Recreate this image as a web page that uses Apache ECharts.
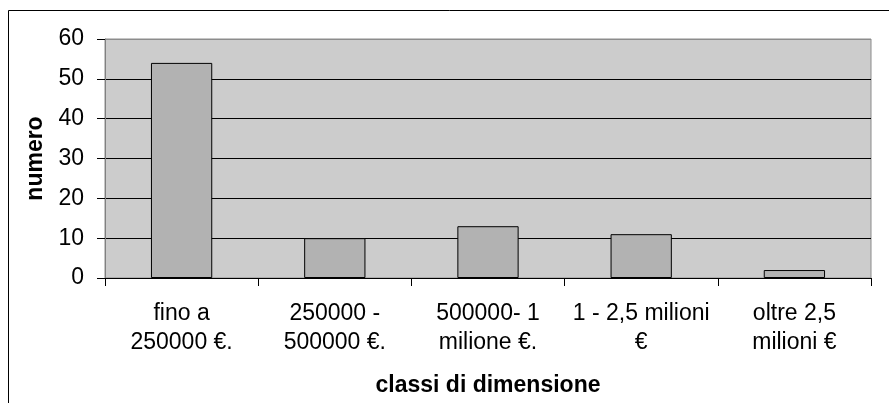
<!DOCTYPE html>
<html><head><meta charset="utf-8">
<script src="https://cdn.jsdelivr.net/npm/echarts@6/dist/echarts.min.js"></script>
<style>html,body{margin:0;padding:0;background:#fff}#c{width:889px;height:403px}</style>
</head><body><div id="c"></div>
<script>
const categories = ['fino a\n250000 €.', '250000 -\n500000 €.', '500000- 1\nmilione €.', '1 - 2,5 milioni\n€', 'oltre 2,5\nmilioni €'];
const values = [54, 10, 13, 11, 2];
const yTicks = [0, 10, 20, 30, 40, 50, 60];

const chart = echarts.init(document.getElementById('c'), null, {renderer: 'canvas'});
const font = 'Liberation Sans, Arial, sans-serif';
chart.setOption({
  animation: false,
  graphic: [{type: 'rect', shape: {x: 8.5, y: 10.5, width: 900, height: 420}, style: {fill: 'none', stroke: '#000', lineWidth: 1}, silent: true}],
  grid: {left: 105, right: 18, top: 39, bottom: 125, outerBoundsMode: 'none', containLabel: false, show: true, backgroundColor: '#CCCCCC', borderColor: '#8C8C8C', borderWidth: 1},
  xAxis: {
    type: 'category', data: categories,
    axisLine: {lineStyle: {color: '#000', width: 1}},
    axisTick: {show: true, length: 8, lineStyle: {color: '#000'}, alignWithLabel: false},
    axisLabel: {color: '#000', fontSize: 23, fontFamily: font, lineHeight: 29, margin: 21, interval: 0},
    name: 'classi di dimensione', nameLocation: 'middle', nameGap: 96,
    nameTextStyle: {color: '#000', fontSize: 23, fontWeight: 'bold', fontFamily: font}
  },
  yAxis: {
    type: 'value', min: yTicks[0], max: yTicks[yTicks.length - 1], interval: 10,
    axisLine: {show: true, lineStyle: {color: '#808080', width: 1}},
    axisTick: {show: true, length: 8, lineStyle: {color: '#000'}},
    axisLabel: {color: '#000', fontSize: 23, fontFamily: font, margin: 21},
    splitLine: {show: true, lineStyle: {color: ['#000','#000','#000','#000','#000','#000','#8C8C8C'], width: 1}},
    name: 'numero', nameLocation: 'middle', nameGap: 58, nameRotate: 90,
    nameTextStyle: {color: '#000', fontSize: 23, fontWeight: 'bold', fontFamily: font}
  },
  series: [{
    type: 'bar', data: values, barWidth: '40%',
    itemStyle: {color: '#B2B2B2', borderColor: '#000', borderWidth: 1}
  }]
});
</script></body></html>
